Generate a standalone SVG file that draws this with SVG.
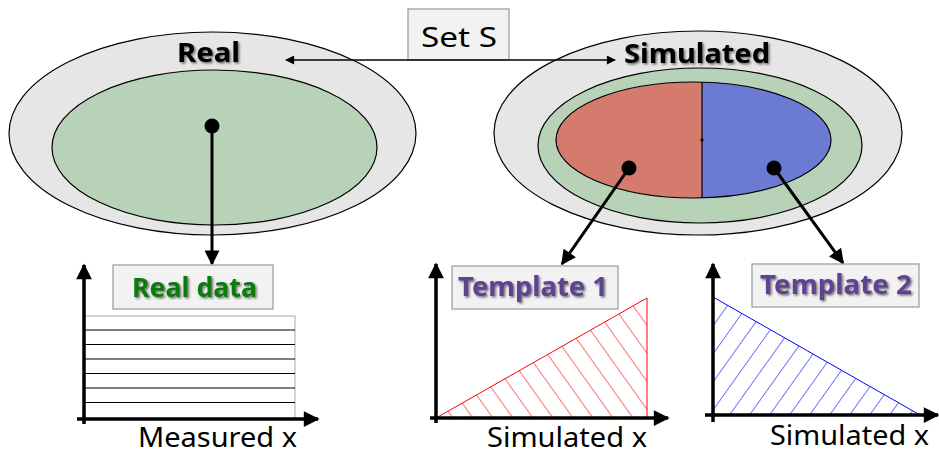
<svg xmlns="http://www.w3.org/2000/svg" width="939" height="455" viewBox="0 0 939 455">
<defs>
<style>
.ell{stroke:#000;stroke-width:1.2}
.outer{fill:#e6e6e6}
.green{fill:#b8d2b8}
.lbl{font-family:"Noto Sans","DejaVu Sans",sans-serif;font-size:27px;fill:#000}
.bold{font-weight:bold;filter:url(#sh)}
.box{fill:#f2f2f2;stroke:#999;stroke-width:1.2}
.thick{stroke:#000;stroke-width:3;fill:none}
.axis{stroke:#000;stroke-width:3.5;fill:none}
</style>
<filter id="sh" x="-10%" y="-20%" width="130%" height="150%">
<feDropShadow dx="1.5" dy="1.5" stdDeviation="0.8" flood-color="#000" flood-opacity="0.55"/>
</filter>
<marker id="ah" viewBox="0 0 10 10" refX="9" refY="5" markerWidth="5.5" markerHeight="5" orient="auto" markerUnits="strokeWidth">
<path d="M0,0 L10,5 L0,10 z" fill="#000"/>
</marker>
<marker id="as" viewBox="0 0 10 10" refX="9" refY="5" markerWidth="10" markerHeight="6" orient="auto" markerUnits="strokeWidth">
<path d="M0,0 L10,5 L0,10 z" fill="#000"/>
</marker>
<marker id="ax" viewBox="0 0 10 10" refX="9" refY="5" markerWidth="5" markerHeight="4.5" orient="auto" markerUnits="strokeWidth">
<path d="M0,0 L10,5 L0,10 z" fill="#000"/>
</marker>
<pattern id="hatchR" patternUnits="userSpaceOnUse" width="16.3" height="20" patternTransform="translate(647,298) rotate(-35.5)">
<line x1="0" y1="-5" x2="0" y2="25" stroke="#ff0000" stroke-width="1.1"/>
</pattern>
<pattern id="hatchB" patternUnits="userSpaceOnUse" width="16.3" height="20" patternTransform="translate(713,297) rotate(35.5)">
<line x1="0" y1="-5" x2="0" y2="25" stroke="#0000ff" stroke-width="1.1"/>
</pattern>
<clipPath id="rightHalf"><rect x="702" y="70" width="200" height="140"/></clipPath>
</defs>

<g id="real-set">
<ellipse class="ell outer" cx="212.5" cy="133.5" rx="203.5" ry="101.5"/>
<ellipse class="ell green" cx="214.5" cy="147.5" rx="162.5" ry="77.5"/>
<text class="lbl bold" x="208.5" y="62" text-anchor="middle" font-size="29" textLength="63" lengthAdjust="spacingAndGlyphs">Real</text>
<circle cx="212" cy="126" r="7.5" fill="#000"/>
</g>

<g id="simulated-set">
<ellipse class="ell outer" cx="698" cy="133" rx="204" ry="102"/>
<ellipse class="ell green" cx="700" cy="145.5" rx="162" ry="77.5"/>
<ellipse cx="693.5" cy="140" rx="137.5" ry="58" fill="#d57b6d"/>
<ellipse cx="693.5" cy="140" rx="137.5" ry="58" fill="#6b7bd3" clip-path="url(#rightHalf)"/>
<ellipse class="ell" cx="693.5" cy="140" rx="137.5" ry="58" fill="none"/>
<line x1="702" y1="82.1" x2="702" y2="197.9" stroke="#000" stroke-width="1.2"/>
<circle cx="702" cy="140" r="1.6" fill="#000"/>
<text class="lbl bold" x="697" y="63" text-anchor="middle" font-size="29" textLength="146" lengthAdjust="spacingAndGlyphs">Simulated</text>
<circle cx="629" cy="168" r="7.5" fill="#000"/>
<circle cx="774" cy="168" r="7.5" fill="#000"/>
</g>

<g id="set-s">
<rect class="box" x="408" y="9" width="101" height="51" fill="#f0f0f0"/>
<text class="lbl" x="459" y="47" text-anchor="middle" textLength="76" lengthAdjust="spacingAndGlyphs">Set S</text>
</g>

<g id="connectors">
<line x1="459" y1="60" x2="286" y2="60" stroke="#000" stroke-width="1.5" marker-end="url(#as)"/>
<line x1="459" y1="60" x2="615" y2="60" stroke="#000" stroke-width="1.5" marker-end="url(#as)"/>
<line class="thick" x1="212" y1="126" x2="212" y2="264" marker-end="url(#ah)"/>
<line class="thick" x1="629" y1="168" x2="562" y2="264" marker-end="url(#ah)"/>
<line class="thick" x1="774" y1="168" x2="843" y2="263" marker-end="url(#ah)"/>
</g>

<g id="real-data-plot">
<rect x="84" y="316" width="211" height="103" fill="#fff" stroke="#aaa" stroke-width="1"/>
<g stroke="#000" stroke-width="1">
<line x1="84" y1="330" x2="295" y2="330"/>
<line x1="84" y1="344.5" x2="295" y2="344.5"/>
<line x1="84" y1="359" x2="295" y2="359"/>
<line x1="84" y1="373.5" x2="295" y2="373.5"/>
<line x1="84" y1="388" x2="295" y2="388"/>
<line x1="84" y1="402.5" x2="295" y2="402.5"/>
</g>
<line class="axis" x1="84" y1="424" x2="84" y2="265" marker-end="url(#ax)"/>
<line class="axis" x1="77" y1="419" x2="318" y2="419" marker-end="url(#ax)"/>
<text class="lbl" x="138" y="447" textLength="159" lengthAdjust="spacingAndGlyphs">Measured x</text>
</g>

<g id="real-data-label">
<rect class="box" x="113" y="265" width="160" height="44"/>
<text class="lbl bold" x="194.5" y="297" text-anchor="middle" style="fill:#0f7a0f" textLength="125" lengthAdjust="spacingAndGlyphs">Real data</text>
</g>

<g id="template1-plot">
<polygon points="436,418 647,298 647,418" fill="url(#hatchR)" stroke="#ff0000" stroke-width="1"/>
<line class="axis" x1="436" y1="423" x2="436" y2="264" marker-end="url(#ax)"/>
<line class="axis" x1="430" y1="418" x2="668" y2="418" marker-end="url(#ax)"/>
<text class="lbl" x="487" y="447" textLength="160" lengthAdjust="spacingAndGlyphs">Simulated x</text>
</g>

<g id="template1-label">
<rect class="box" x="452" y="266" width="166" height="43"/>
<text class="lbl bold" x="533" y="296" text-anchor="middle" style="fill:#5f4290" textLength="150" lengthAdjust="spacingAndGlyphs">Template 1</text>
</g>

<g id="template2-plot">
<polygon points="713,297 920,415 713,415" fill="url(#hatchB)" stroke="#0000ff" stroke-width="1"/>
<line class="axis" x1="713" y1="422" x2="713" y2="264" marker-end="url(#ax)"/>
<line class="axis" x1="705" y1="415" x2="938" y2="415" marker-end="url(#ax)"/>
<text class="lbl" x="770" y="445" textLength="159" lengthAdjust="spacingAndGlyphs">Simulated x</text>
</g>

<g id="template2-label">
<rect class="box" x="752" y="264" width="167" height="43"/>
<text class="lbl bold" x="836" y="294" text-anchor="middle" style="fill:#5f4290" textLength="152" lengthAdjust="spacingAndGlyphs">Template 2</text>
</g>
</svg>
